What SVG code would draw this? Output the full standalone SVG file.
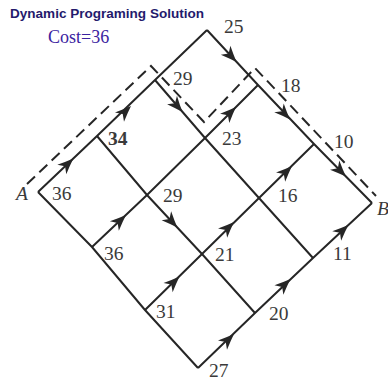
<svg xmlns="http://www.w3.org/2000/svg" xmlns:xlink="http://www.w3.org/1999/xlink" width="388" height="381" viewBox="0 0 388 381">
<style>
.grid{fill:none;stroke:#262626;stroke-width:2;stroke-linejoin:miter}
.dash{fill:none;stroke:#262626;stroke-width:2;stroke-dasharray:11 6}
.lbl{font-family:"Liberation Serif","Times New Roman",serif;font-size:19.5px;fill:#3a3a3a}
.pt{font-family:"Liberation Serif","Times New Roman",serif;font-size:19.5px;font-style:italic;fill:#3a3a3a}
.ah{fill:#262626}
</style>
<defs>
<path id="ah" d="M0,0 Q-7,-2.5 -16,-6.5 L-11.5,0 L-16,6.5 Q-7,2.5 0,0 Z"/>
</defs>
<rect width="388" height="381" fill="#ffffff"/>
<g id="title">
<text x="10" y="18" font-family="'Liberation Sans',Arial,sans-serif" font-weight="bold" font-size="13" fill="#241a6c" textLength="194" lengthAdjust="spacingAndGlyphs">Dynamic Programing Solution</text>
<text x="48" y="43" font-family="'Liberation Serif','Times New Roman',serif" font-size="18" fill="#3b23a0">Cost=36</text>
</g>
<g id="connectors">
<polyline class="grid" points="38,192 97,136 155,80 207,30"/>
<polyline class="grid" points="92,247 147,195 205,138 258,85"/>
<polyline class="grid" points="145,310 202,254 259,198 314,144"/>
<polyline class="grid" points="198,368 255,313 313,258 372,203"/>
<polyline class="grid" points="38,192 92,247 145,310 198,368"/>
<polyline class="grid" points="97,136 147,195 202,254 255,313"/>
<polyline class="grid" points="155,80 205,138 259,198 313,258"/>
<polyline class="grid" points="207,30 258,85 314,144 372,203"/>
<polyline class="dash" points="27,184 151,66 204,122 255,68 376,196"/>
<g class="ah">
<use xlink:href="#ah" transform="translate(73.4,158.4) rotate(-43.5)"/>
<use xlink:href="#ah" transform="translate(131,106) rotate(-44)"/>
<use xlink:href="#ah" transform="translate(182.5,112) rotate(49.2)"/>
<use xlink:href="#ah" transform="translate(236.5,62) rotate(47.2)"/>
<use xlink:href="#ah" transform="translate(236,107) rotate(-45)"/>
<use xlink:href="#ah" transform="translate(290,119.5) rotate(46.5)"/>
<use xlink:href="#ah" transform="translate(345.9,176.5) rotate(45.5)"/>
<use xlink:href="#ah" transform="translate(126,215) rotate(-43.4)"/>
<use xlink:href="#ah" transform="translate(177.3,227.5) rotate(47)"/>
<use xlink:href="#ah" transform="translate(179.5,276.5) rotate(-44.5)"/>
<use xlink:href="#ah" transform="translate(234,222) rotate(-44.5)"/>
<use xlink:href="#ah" transform="translate(292,166) rotate(-44.5)"/>
<use xlink:href="#ah" transform="translate(234,334) rotate(-44)"/>
<use xlink:href="#ah" transform="translate(290.5,279) rotate(-43.5)"/>
<use xlink:href="#ah" transform="translate(348.4,225) rotate(-43)"/>
</g>
</g>
<g id="node-A"><text class="pt" x="16" y="200">A</text><text class="lbl" x="52" y="200">36</text></g>
<g id="node-34"><text class="lbl" x="108" y="145" font-weight="bold" fill="#111">34</text></g>
<g id="node-29a"><text class="lbl" x="173" y="85">29</text></g>
<g id="node-25"><text class="lbl" x="224" y="33">25</text></g>
<g id="node-36b"><text class="lbl" x="104" y="260">36</text></g>
<g id="node-29b"><text class="lbl" x="163" y="202">29</text></g>
<g id="node-23"><text class="lbl" x="222" y="145">23</text></g>
<g id="node-18"><text class="lbl" x="281" y="92">18</text></g>
<g id="node-31"><text class="lbl" x="156" y="318">31</text></g>
<g id="node-21"><text class="lbl" x="215" y="261">21</text></g>
<g id="node-16"><text class="lbl" x="278" y="202">16</text></g>
<g id="node-10"><text class="lbl" x="334" y="148">10</text></g>
<g id="node-27"><text class="lbl" x="209" y="377">27</text></g>
<g id="node-20"><text class="lbl" x="269" y="320">20</text></g>
<g id="node-11"><text class="lbl" x="333" y="260">11</text></g>
<g id="node-B"><text class="pt" x="377" y="215">B</text></g>
</svg>
